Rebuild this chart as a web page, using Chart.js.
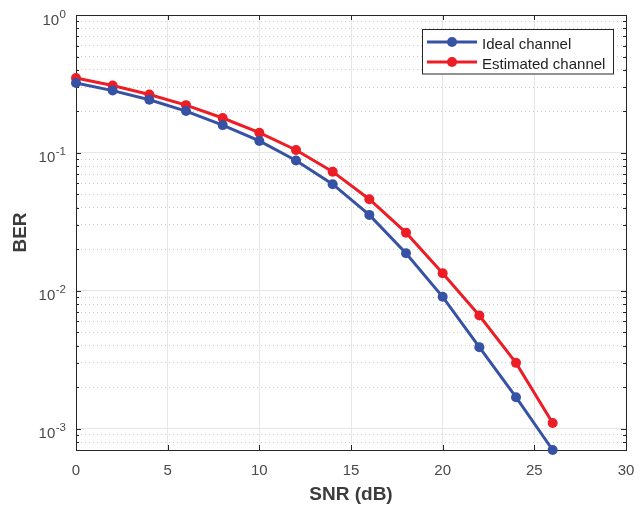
<!DOCTYPE html>
<html>
<head>
<meta charset="utf-8">
<script src="https://cdn.jsdelivr.net/npm/chart.js"></script>
<style>
  html, body { margin: 0; padding: 0; background: #fff; }
  #wrap { width: 644px; height: 509px; }
</style>
</head>
<body>
<div id="wrap"><canvas id="berChart" width="644" height="509"></canvas></div>
<script>
// SNR points (dB)
const snrDb = [0, 2, 4, 6, 8, 10, 12, 14, 16, 18, 20, 22, 24, 26];
// BER
const berIdeal = [0.321, 0.283, 0.243, 0.201, 0.159, 0.122, 0.088, 0.0593, 0.0355, 0.0187, 0.00904, 0.0039, 0.00169, 0.0007];
const berEstimated = [0.349, 0.308, 0.265, 0.222, 0.179, 0.140, 0.105, 0.0731, 0.0461, 0.0264, 0.0134, 0.00662, 0.0030, 0.0011];

const seriesLabels = ['Ideal channel', 'Estimated channel'];
const xTicks = [0, 5, 10, 15, 20, 25, 30];
const yDecades = [1e-4, 1e-3, 1e-2, 1e-1, 1];
const yMultipliers = [1, 2, 3, 4, 5, 6, 7, 8, 9];
const yMin = 0.0007;
const yMax = 1;

const FONT = "'Liberation Sans', Arial, Helvetica, sans-serif";
const BLUE = '#3652a5';
const RED = '#ec1d25';

function isDecade(v) {
    const l = Math.log10(v);
    return Math.abs(l - Math.round(l)) < 1e-6;
}

// all y tick positions (decades + minor steps) inside the range
const yTickValues = [];
yDecades.forEach(d => {
    yMultipliers.forEach(m => {
        const v = m * d;
        if (v >= yMin * 0.999 && v <= yMax * 1.001) yTickValues.push(v);
    });
});

// box, inward tick marks, y labels with superscript, legend
const matlabLook = {
    id: 'matlabLook',
    beforeDatasetsDraw(chart) {
        const {ctx, chartArea: a, scales: {x, y}} = chart;
        ctx.save();
        ctx.strokeStyle = '#262626';
        ctx.lineWidth = 1;
        ctx.beginPath();
        xTicks.forEach(t => {
            const px = Math.round(x.getPixelForValue(t)) + 0.5;
            ctx.moveTo(px, a.bottom); ctx.lineTo(px, a.bottom - 5);
            ctx.moveTo(px, a.top); ctx.lineTo(px, a.top + 5);
        });
        yTickValues.forEach(v => {
            const py = Math.round(y.getPixelForValue(v)) + 0.5;
            const len = isDecade(v) ? 5 : 3;
            ctx.moveTo(a.left, py); ctx.lineTo(a.left + len, py);
            ctx.moveTo(a.right, py); ctx.lineTo(a.right - len, py);
        });
        ctx.stroke();
        ctx.strokeRect(Math.round(a.left) + 0.5, Math.round(a.top) + 0.5,
            Math.round(a.right - a.left), Math.round(a.bottom - a.top));
        ctx.restore();
    },
    afterDraw(chart) {
        const {ctx, scales: {y}} = chart;
        ctx.save();
        ctx.fillStyle = '#4a4a4a';
        ctx.textBaseline = 'alphabetic';
        ctx.textAlign = 'right';
        const right = 66;
        yTickValues.filter(isDecade).forEach(v => {
            const py = y.getPixelForValue(v);
            const exp = String(Math.round(Math.log10(v)));
            ctx.font = '11.5px ' + FONT;
            const ew = ctx.measureText(exp).width;
            ctx.fillText(exp, right, py + 2.5);
            ctx.font = '15px ' + FONT;
            ctx.fillText('10', right - ew - 0.5, py + 9.5);
        });

        // legend box
        const bx = 422, by = 29.5, bw = 191, bh = 44.5;
        ctx.fillStyle = '#ffffff';
        ctx.fillRect(bx, by, bw, bh);
        ctx.strokeStyle = '#262626';
        ctx.lineWidth = 1;
        ctx.strokeRect(bx + 0.5, by, bw, bh);
        chart.data.datasets.forEach((ds, i) => {
            const ry = 42 + i * 20;
            ctx.strokeStyle = ds.borderColor;
            ctx.lineWidth = 3;
            ctx.beginPath();
            ctx.moveTo(427, ry); ctx.lineTo(477, ry);
            ctx.stroke();
            ctx.fillStyle = ds.borderColor;
            ctx.beginPath();
            ctx.arc(452, ry, 5, 0, Math.PI * 2);
            ctx.fill();
            ctx.fillStyle = '#1f1f1f';
            ctx.font = '15px ' + FONT;
            ctx.textAlign = 'left';
            ctx.fillText(ds.label, 482, ry + 7);
        });
        ctx.restore();
    }
};

const ctx = document.getElementById('berChart').getContext('2d');
new Chart(ctx, {
    type: 'line',
    data: {
        datasets: [{
            label: seriesLabels[0],
            data: snrDb.map((s, i) => ({x: s, y: berIdeal[i]})),
            borderColor: BLUE,
            backgroundColor: BLUE,
            pointBackgroundColor: BLUE,
            borderWidth: 3,
            pointRadius: 5,
            pointBorderWidth: 0,
            tension: 0
        }, {
            label: seriesLabels[1],
            data: snrDb.map((s, i) => ({x: s, y: berEstimated[i]})),
            borderColor: RED,
            backgroundColor: RED,
            pointBackgroundColor: RED,
            borderWidth: 3,
            pointRadius: 5,
            pointBorderWidth: 0,
            tension: 0
        }]
    },
    options: {
        responsive: false,
        animation: false,
        devicePixelRatio: 1,
        clip: false,
        layout: { padding: { top: 15, right: 18, left: 0, bottom: 0 } },
        plugins: {
            legend: { display: false },
            tooltip: { enabled: false }
        },
        scales: {
            x: {
                type: 'linear',
                min: 0,
                max: 30,
                afterBuildTicks: scale => { scale.ticks = xTicks.map(v => ({value: v})); },
                afterFit: scale => {
                    scale.height = 59;
                    scale.paddingLeft = 0;
                    scale.paddingRight = 0;
                },
                ticks: {
                    color: '#4a4a4a',
                    font: { family: FONT, size: 15 },
                    padding: 12,
                    maxRotation: 0
                },
                grid: { color: '#e6e6e6', lineWidth: 1, drawTicks: false },
                border: { color: '#262626', width: 1 },
                title: {
                    display: true,
                    text: 'SNR (dB)',
                    color: '#3c3c3c',
                    font: { family: FONT, size: 19, weight: 'bold' },
                    padding: { top: 0, bottom: 3 }
                }
            },
            y: {
                type: 'logarithmic',
                min: yMin,
                max: yMax,
                afterBuildTicks: scale => {
                    scale.ticks = yTickValues.map(v => ({value: v, major: isDecade(v)}));
                },
                afterFit: scale => {
                    scale.width = 76;
                    scale.paddingTop = 0;
                    scale.paddingBottom = 0;
                },
                ticks: { display: false, autoSkip: false },
                grid: {
                    drawTicks: false,
                    color: c => {
                        if (!c.tick) return '#e6e6e6';
                        if (Math.abs(c.tick.value - yMin) < 1e-9) return 'rgba(0,0,0,0)';
                        return isDecade(c.tick.value) ? '#e6e6e6' : '#cccccc';
                    }
                },
                border: {
                    color: '#262626',
                    width: 1,
                    dash: c => (c.tick && !isDecade(c.tick.value)) ? [1, 3] : []
                },
                title: {
                    display: true,
                    text: 'BER',
                    color: '#3c3c3c',
                    font: { family: FONT, size: 19, weight: 'bold' },
                    padding: { top: 9, bottom: 0 }
                }
            }
        }
    },
    plugins: [matlabLook]
});
</script>
</body>
</html>
